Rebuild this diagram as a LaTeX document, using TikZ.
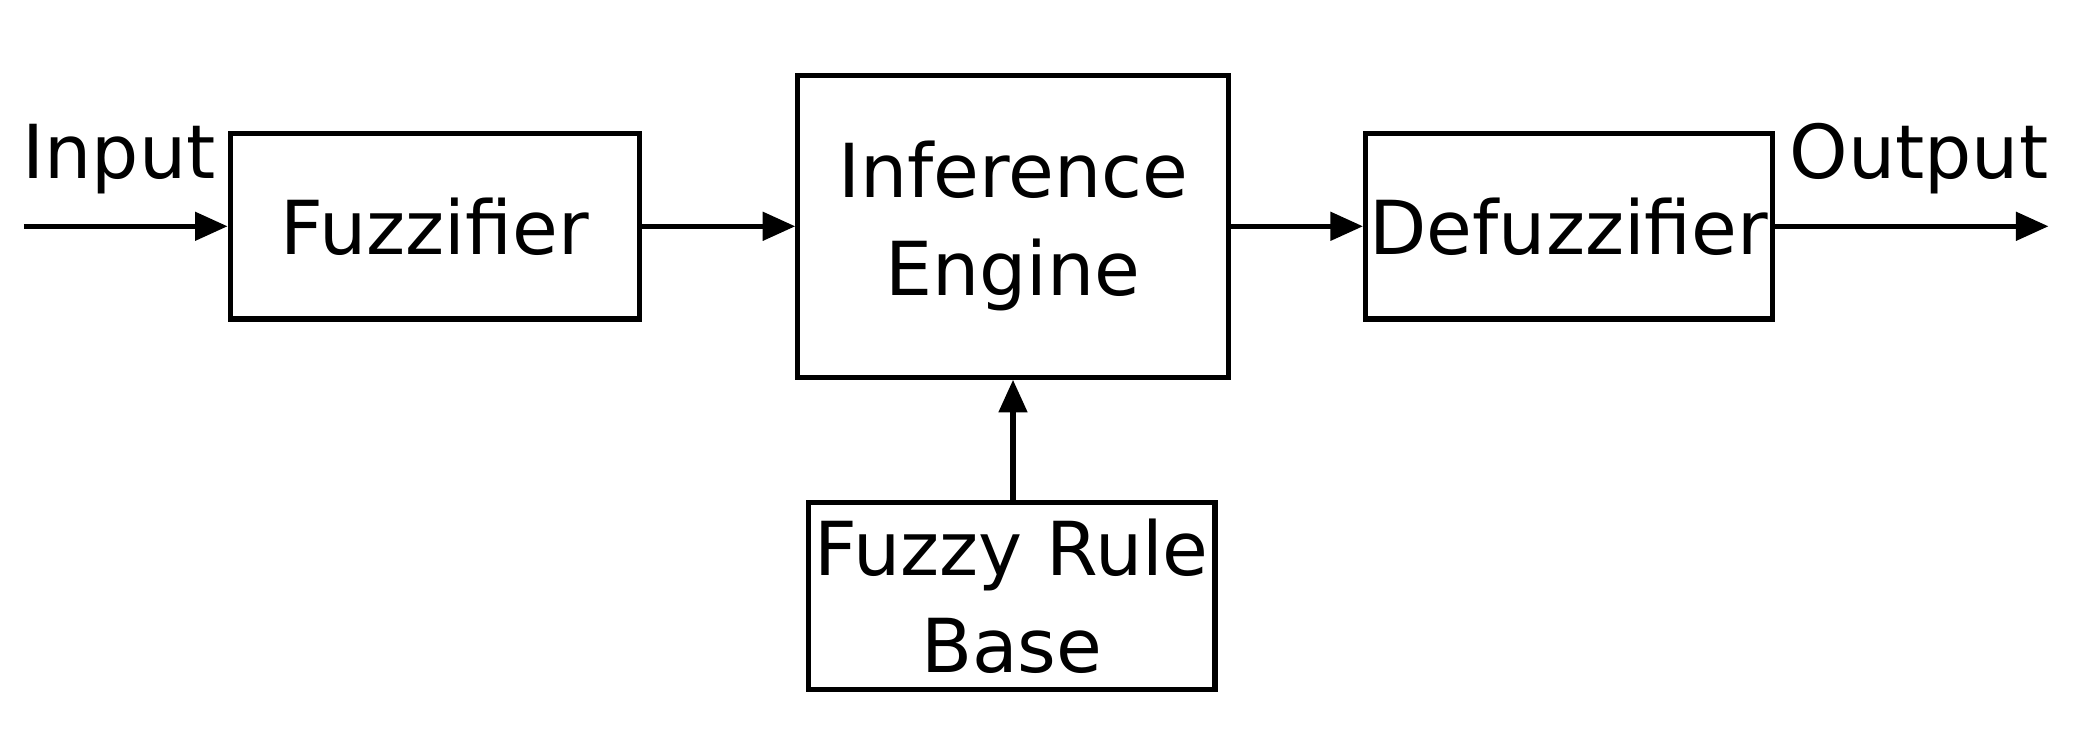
\documentclass[tikz,border=0pt]{standalone}
\usepackage{fontspec}
\setmainfont{DejaVu Sans}
\usetikzlibrary{arrows.meta}
\begin{document}
\begin{tikzpicture}[x=0.01cm,y=-0.01cm,
  box/.style={draw,line width=1.1pt,inner sep=0pt,align=center,font=\fontsize{16}{19}\selectfont},
  lbl/.style={font=\fontsize{16}{19}\selectfont,inner sep=0pt},
  arr/.style={line width=1.1pt,-{Triangle[length=7pt,width=6pt]}}]
\useasboundingbox (0,0) rectangle (1568,551);
\node[box,minimum width=3.09cm,minimum height=1.40cm] (fz) at (328.5,171) {Fuzzifier};
\node[box,minimum width=3.25cm,minimum height=2.28cm] (ie) at (765.5,171) {Inference\\[2pt]Engine};
\node[box,minimum width=3.07cm,minimum height=1.40cm] (df) at (1185.5,171) {Defuzzifier};
\node[box,minimum width=3.07cm,minimum height=1.41cm] (rb) at (764.5,450.5) {Fuzzy Rule\\[2pt]Base};
\coordinate (in) at (18,171);
\coordinate (out) at (1548,171);
\node[lbl] (il) at (90,120) {Input};
\node[lbl] (ol) at (1450,120) {Output};
\draw[arr] (in) -- (fz);
\draw[arr] (fz) -- (ie);
\draw[arr] (ie) -- (df);
\draw[arr] (df) -- (out);
\draw[arr] (rb.north -| ie.south) -- (ie.south);
\end{tikzpicture}
\end{document}
